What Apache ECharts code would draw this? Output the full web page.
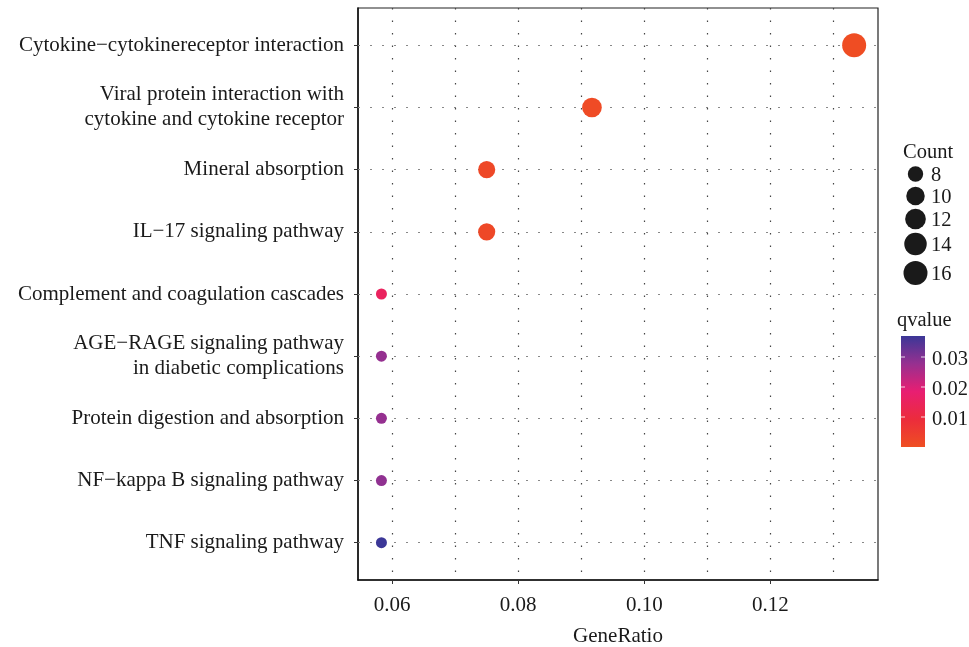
<!DOCTYPE html>
<html>
<head>
<meta charset="utf-8">
<script src="https://cdn.jsdelivr.net/npm/echarts@6/dist/echarts.min.js"></script>
<style>html,body{margin:0;padding:0;background:#fff}#c{width:969px;height:647px}</style>
</head>
<body>
<div id="c"></div>
<script>
// ---- data ----
var categories = [
  "Cytokine\u2212cytokinereceptor interaction",
  "Viral protein interaction with\ncytokine and cytokine receptor",
  "Mineral absorption",
  "IL\u221217 signaling pathway",
  "Complement and coagulation cascades",
  "AGE\u2212RAGE signaling pathway\nin diabetic complications",
  "Protein digestion and absorption",
  "NF\u2212kappa B signaling pathway",
  "TNF signaling pathway"
];
var geneRatio = [0.1333, 0.0917, 0.0750, 0.0750, 0.0583, 0.0583, 0.0583, 0.0583, 0.0583];
var counts = [16, 11, 9, 9, 7, 7, 7, 7, 7];
var qvalues = [0.0004, 0.0010, 0.0018, 0.0018, 0.0150, 0.0280, 0.0280, 0.0285, 0.0370];
var xTickLabels = [0.06, 0.08, 0.10, 0.12];
var xGridValues = [0.06, 0.07, 0.08, 0.09, 0.10, 0.11, 0.12, 0.13];
var countLegend = [8, 10, 12, 14, 16];
var qLegend = [0.01, 0.02, 0.03];

// ---- scales / styles ----
var FONT = "Liberation Serif";
var FS = 21;
var xMin = 0.054583, xMax = 0.137083;
var qMin = 0.0, qMax = 0.037;
var cMin = 7, cMax = 16;
var gradColors = ['#EF4F22', '#EC2C3C', '#E81E72', '#973090', '#3B3797'];
function sizeOf(c) { return 11 + 13 * Math.sqrt(Math.max(0, (c - cMin) / (cMax - cMin))); }

var pts = categories.map(function (c, i) { return [geneRatio[i], i, qvalues[i], counts[i]]; });

var chart = echarts.init(document.getElementById('c'));

// legend graphics
var font = '20.5px "' + FONT + '"';
var graphics = [];
graphics.push({type: 'text', x: 903, y: 153, style: {text: 'Count', font: font, fill: '#1a1a1a', verticalAlign: 'middle'}});
var cy = [174, 196, 219, 244, 273];
countLegend.forEach(function (c, i) {
  var r = sizeOf(c) / 2;
  graphics.push({type: 'circle', shape: {cx: 915.5, cy: cy[i], r: r}, style: {fill: '#1a1a1a'}});
  graphics.push({type: 'text', x: 931, y: cy[i] + 2, style: {text: String(c), font: font, fill: '#1a1a1a', verticalAlign: 'middle'}});
});
graphics.push({type: 'text', x: 897, y: 321, style: {text: 'qvalue', font: font, fill: '#1a1a1a', verticalAlign: 'middle'}});
var barX = 901, barY = 336, barW = 24, barH = 111;
graphics.push({type: 'rect', shape: {x: barX, y: barY, width: barW, height: barH},
  style: {fill: new echarts.graphic.LinearGradient(0, 1, 0, 0, gradColors.map(function (col, i) { return {offset: i / (gradColors.length - 1), color: col}; }))}});
qLegend.forEach(function (v) {
  var y = barY + barH - (v - qMin) / (qMax - qMin) * barH;
  graphics.push({type: 'line', shape: {x1: barX, y1: y, x2: barX + 4, y2: y}, style: {stroke: 'rgba(255,255,255,0.8)', lineWidth: 1}});
  graphics.push({type: 'line', shape: {x1: barX + barW - 4, y1: y, x2: barX + barW, y2: y}, style: {stroke: 'rgba(255,255,255,0.8)', lineWidth: 1}});
  graphics.push({type: 'text', x: 932, y: y + 3, style: {text: v.toFixed(2), font: font, fill: '#1a1a1a', verticalAlign: 'middle'}});
});

var catIdx = categories.map(function (c, i) { return i; });

var option = {
  backgroundColor: '#fff',
  animation: false,
  grid: {left: 358, right: 91, top: 8, bottom: 67, show: true, borderColor: '#222', borderWidth: 1.2, backgroundColor: '#fff',
    containLabel: false, outerBoundsMode: 'none'},
  xAxis: {
    type: 'value', min: xMin, max: xMax,
    name: 'GeneRatio', nameLocation: 'middle', nameGap: 46,
    nameTextStyle: {fontFamily: FONT, fontSize: FS, color: '#1a1a1a'},
    axisLine: {show: true, onZero: false, lineStyle: {color: '#111', width: 1.5}},
    axisTick: {show: true, length: 4, lineStyle: {color: '#333', width: 1}, customValues: xTickLabels},
    axisLabel: {customValues: xTickLabels, formatter: function (v) { return v.toFixed(2); }, fontFamily: FONT, fontSize: FS, color: '#1a1a1a', margin: 15},
    splitLine: {show: false}
  },
  yAxis: {
    type: 'value', min: -0.6, max: 8.6, inverse: true,
    axisLine: {show: true, onZero: false, lineStyle: {color: '#111', width: 1.5}},
    axisTick: {show: true, length: 4, lineStyle: {color: '#333', width: 1}, customValues: catIdx},
    axisLabel: {customValues: catIdx, formatter: function (v) { return categories[Math.round(v)]; },
      fontFamily: FONT, fontSize: FS, color: '#1a1a1a', margin: 14, lineHeight: 25, align: 'right', padding: [9, 0, 0, 0]},
    splitLine: {show: false}
  },
  visualMap: {show: false, type: 'continuous', min: qMin, max: qMax, dimension: 2, seriesIndex: 1, inRange: {color: gradColors}},
  graphic: graphics,
  series: [
    {
      type: 'line', data: [], z: 1, silent: true,
      markLine: {
        silent: true, symbol: 'none', label: {show: false}, animation: false,
        data: xGridValues.map(function (v) { return {xAxis: v, lineStyle: {color: '#444', type: [1.5, 11], width: 1.2}}; })
          .concat(catIdx.map(function (i) {
            return [{coord: [xMin, i], lineStyle: {color: '#888', type: [2, 10], width: 1.2}}, {coord: [xMax, i]}];
          }))
      }
    },
    {
      type: 'scatter', z: 5, data: pts,
      symbolSize: function (d) { return sizeOf(d[3]); },
      itemStyle: {opacity: 1}
    }
  ]
};
chart.setOption(option);
</script>
</body>
</html>
